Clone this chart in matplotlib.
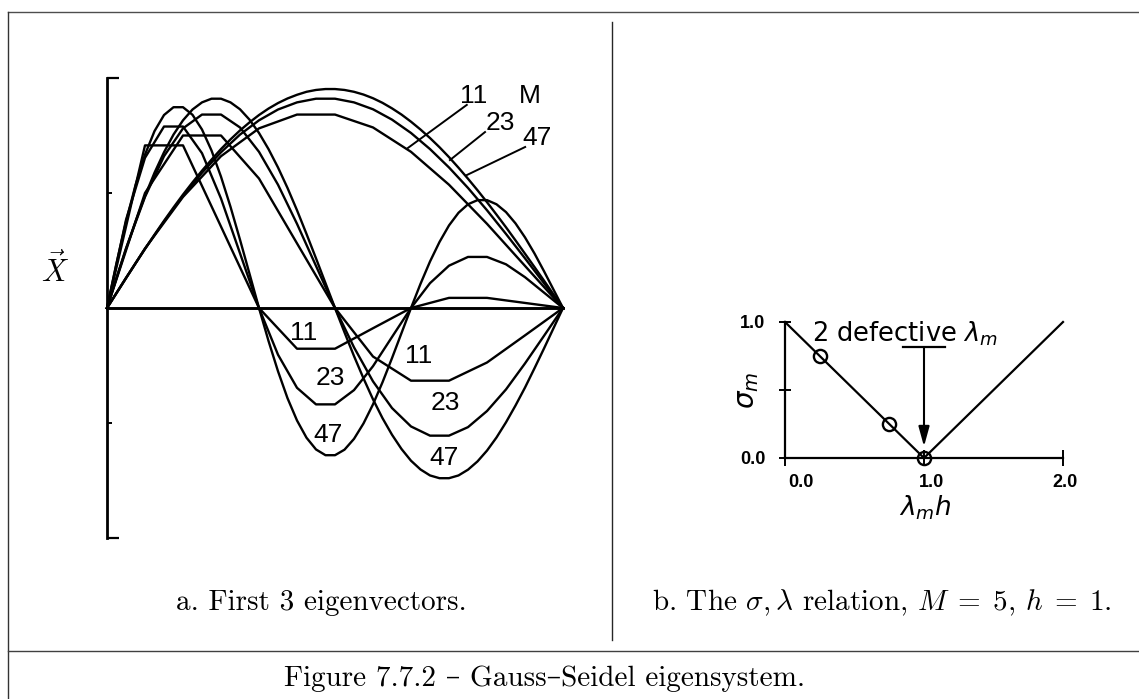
import numpy as np
import matplotlib
matplotlib.use("Agg")
import matplotlib.pyplot as plt
from matplotlib.lines import Line2D
from matplotlib.transforms import ScaledTranslation

# ---------------------------------------------------------------
# Gauss-Seidel eigenvectors (first three modes) on meshes of M points,
# values at the mesh nodes including both zero boundary values.
# ---------------------------------------------------------------
m11_mode1 = [0, .259, .483, .660, .781, .841, .841, .785, .679, .536, .366, .183, 0]
m11_mode2 = [0, .500, .750, .750, .563, .281, 0, -.211, -.316, -.316, -.237, -.119, 0]
m11_mode3 = [0, .707, .707, .354, 0, -.177, -.177, -.088, 0, .044, .044, .022, 0]

m23_mode1 = [0, .131, .257, .376, .487, .588, .677, .754, .816, .863, .894, .910, .910,
             .894, .864, .819, .761, .691, .611, .522, .425, .322, .216, .108, 0]
m23_mode2 = [0, .259, .483, .660, .781, .841, .841, .785, .679, .536, .366, .183, 0,
             -.171, -.319, -.435, -.515, -.555, -.555, -.518, -.448, -.354, -.241, -.121, 0]
m23_mode3 = [0, .383, .653, .789, .789, .673, .476, .238, 0, -.203, -.347, -.419, -.419,
             -.357, -.253, -.126, 0, .108, .184, .222, .222, .190, .134, .067, 0]

m47_mode1 = [0, .065, .130, .194, .257, .319, .379, .437, .493, .546, .597, .645, .691,
             .733, .772, .807, .839, .867, .891, .911, .927, .940, .948, .952, .952,
             .948, .940, .928, .912, .892, .868, .841, .810, .776, .739, .699, .656,
             .610, .562, .512, .460, .406, .351, .294, .236, .178, .119, .059, 0]
m47_mode2 = [0, .131, .257, .376, .487, .588, .677, .754, .816, .863, .894, .910, .910,
             .894, .864, .819, .761, .691, .611, .522, .425, .322, .216, .108, 0,
             -.106, -.209, -.306, -.397, -.479, -.551, -.613, -.664, -.702, -.728,
             -.740, -.740, -.728, -.703, -.667, -.620, -.563, -.497, -.424, -.346,
             -.262, -.176, -.088, 0]
m47_mode3 = [0, .195, .375, .534, .667, .769, .839, .873, .873, .840, .776, .685, .571,
             .440, .297, .149, 0, -.143, -.275, -.392, -.489, -.564, -.615, -.640, -.640,
             -.616, -.569, -.502, -.419, -.323, -.218, -.109, 0, .105, .202, .287, .359,
             .414, .451, .469, .469, .451, .417, .368, .307, .237, .160, .080, 0]

mesh_labels = ["11", "23", "47"]

# sigma-lambda relation for M = 5, h = 1
lam_h_line = [0.0, 1.0, 2.0]
sigma_line = [1.0, 0.0, 1.0]
lam_h_eig = [0.25, 0.75, 1.0]
sigma_eig = [0.75, 0.25, 0.0]
x_tick_vals = [0.0, 1.0, 2.0]
x_tick_text = ["0.0", "1.0", "2.0"]
y_tick_vals = [0.0, 0.5, 1.0]
y_tick_text = ["0.0", "", "1.0"]

# ---------------------------------------------------------------
W, H = 1139, 699
fig = plt.figure(figsize=(W / 100, H / 100), dpi=100)
fig.patch.set_facecolor("white")


def fx(px):
    return px / W


def fy(py):
    return 1 - py / H


def frame_line(x0, y0, x1, y1, lw=1.0, color="0.15"):
    fig.add_artist(Line2D([fx(x0), fx(x1)], [fy(y0), fy(y1)],
                          transform=fig.transFigure, lw=lw, color=color))


# page frame
frame_line(8, 12, 1139, 12, lw=1.0, color="0.3")
frame_line(8, 12, 8, 699, lw=1.0, color="0.2")
frame_line(612, 22, 612, 640, lw=1.0)
frame_line(8, 651, 1139, 651, lw=1.0, color="0.25")

# ---------------- panel a: eigenvectors ----------------
axL = fig.add_axes([fx(107), fy(538), fx(563) - fx(107), fy(78) - fy(538)])
axL.set_xlim(0, 1)
axL.set_ylim(-1, 1)
axL.patch.set_alpha(0)
for s in ("top", "right", "bottom"):
    axL.spines[s].set_visible(False)
axL.spines["left"].set_linewidth(2.0)
axL.spines["left"].set_bounds(-1, 1)
axL.set_xticks([])
axL.set_yticks([-1, 1])
axL.set_yticks([-0.5, 0.5], minor=True)
axL.tick_params(axis="y", which="major", direction="in", length=8.5, width=1.6,
                labelleft=False)
axL.tick_params(axis="y", which="minor", direction="in", length=3.5, width=1.4)

axL.plot([0, 1], [0, 0], color="k", lw=2.1, clip_on=False)

curves = [m11_mode1, m11_mode2, m11_mode3,
          m23_mode1, m23_mode2, m23_mode3,
          m47_mode1, m47_mode2, m47_mode3]
for vals in curves:
    xs = np.arange(len(vals)) / (len(vals) - 1)
    axL.plot(xs, vals, color="k", lw=1.7, solid_joinstyle="round", clip_on=False)

lab_font = dict(family="Liberation Sans", fontsize=19, ha="center", va="center",
                color="k")
# first mode: labels with leader lines
top_pos = [(0.803, 0.922), (0.862, 0.804), (0.943, 0.739)]
lead_from = [(0.789, 0.883), (0.829, 0.765), (0.917, 0.700)]
lead_to = [(0.660, 0.696), (0.752, 0.643), (0.789, 0.578)]
for lab, p, a, b in zip(mesh_labels, top_pos, lead_from, lead_to):
    axL.text(p[0], p[1], lab, **lab_font)
    axL.plot([a[0], b[0]], [a[1], b[1]], color="k", lw=1.4)
axL.text(0.928, 0.922, "M", **lab_font)

# third mode trough labels
for lab, p in zip(mesh_labels, [(0.432, -0.109), (0.489, -0.304), (0.485, -0.552)]):
    axL.text(p[0], p[1], lab, **lab_font)
# second mode trough labels
for lab, p in zip(mesh_labels, [(0.684, -0.209), (0.743, -0.413), (0.739, -0.652)]):
    axL.text(p[0], p[1], lab, **lab_font)

fig.text(fx(55), fy(270), r"$\vec{X}$", fontsize=22, ha="center", va="center",
         math_fontfamily="cm")

# ---------------- panel b: sigma vs lambda h ----------------
axR = fig.add_axes([fx(785), fy(458), fx(1063) - fx(785), fy(322) - fy(458)])
axR.set_xlim(0, 2)
axR.set_ylim(0, 1)
axR.patch.set_alpha(0)
for s in ("top", "right"):
    axR.spines[s].set_visible(False)
for s in ("left", "bottom"):
    axR.spines[s].set_linewidth(1.6)
axR.set_xticks(x_tick_vals)
axR.set_xticklabels(x_tick_text)
axR.set_yticks(y_tick_vals)
axR.set_yticklabels(y_tick_text)
axR.tick_params(axis="x", direction="inout", length=11, width=1.4, pad=6)
axR.tick_params(axis="y", direction="inout", length=8, width=1.4, pad=10)
for lbl in axR.get_xticklabels() + axR.get_yticklabels():
    lbl.set_fontfamily("Liberation Sans")
    lbl.set_fontweight("bold")
    lbl.set_fontsize(13)
for lbl, dx in zip(axR.get_xticklabels(), [16, 8, 2]):
    lbl.set_transform(lbl.get_transform() + ScaledTranslation(dx / 100, 0, fig.dpi_scale_trans))

axR.plot(lam_h_line, sigma_line, color="k", lw=1.6, clip_on=False)
axR.plot(lam_h_eig, sigma_eig, linestyle="none", marker="o", markersize=9.5,
         markerfacecolor="none", markeredgecolor="k", markeredgewidth=1.7,
         clip_on=False)

axR.text(0.194, 0.853, r"2 defective $\lambda_{m}$", fontsize=18.5, ha="left",
         va="baseline", family="DejaVu Sans", math_fontfamily="dejavusans")
axR.plot([0.849, 1.151], [0.816, 0.816], color="k", lw=1.6)
axR.annotate("", xy=(1.0, 0.085), xytext=(1.0, 0.816),
             arrowprops=dict(arrowstyle="-|>,head_length=0.8,head_width=0.22",
                             mutation_scale=15, color="k", lw=1.5,
                             shrinkA=0, shrinkB=0))

fig.text(fx(747), fy(390), r"$\sigma_m$", fontsize=20, rotation=90, ha="center",
         va="center", family="DejaVu Sans", math_fontfamily="dejavusans")
fig.text(fx(925), fy(516), r"$\lambda_m h$", fontsize=19, ha="center",
         va="baseline", family="DejaVu Sans", math_fontfamily="dejavusans")

# ---------------- captions ----------------
cap_font = dict(family=["cmr10", "DejaVu Serif"], fontsize=21, math_fontfamily="cm",
                va="baseline", color="k")
fig.text(fx(321), fy(610), "a. First 3 eigenvectors.", ha="center", **cap_font)
fig.text(fx(652), fy(610),
         r"b. The $\sigma, \lambda$ relation, $M\;=\;5$, $h\;=\;1$.",
         ha="left", **cap_font)
fig.text(fx(545), fy(686), "Figure 7.7.2 \u2013 Gauss\u2013Seidel eigensystem.",
         ha="center", **cap_font)

fig.savefig("out.png", dpi=100, facecolor="white")
